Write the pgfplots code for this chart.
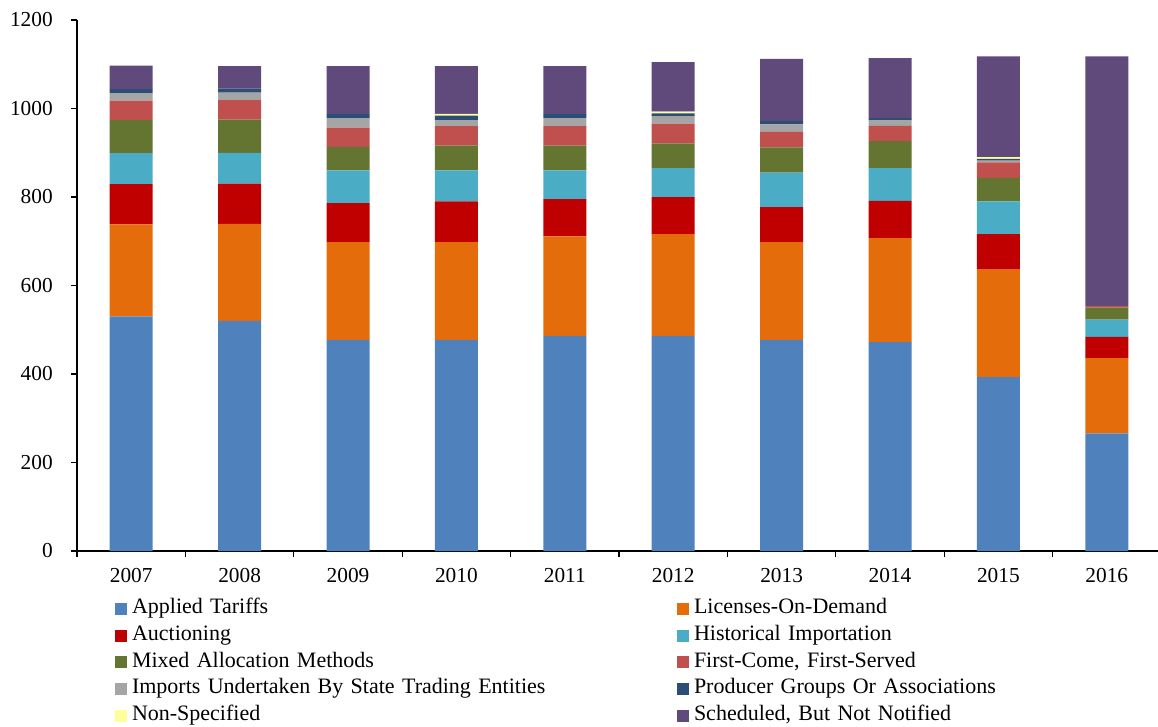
\documentclass[border=0pt]{standalone}
\usepackage{fontspec}
\setmainfont{Liberation Serif}
\usepackage{pgfplots}
\pgfplotsset{compat=1.18}
\definecolor{c1}{HTML}{4F81BD}
\definecolor{c2}{HTML}{E46C0A}
\definecolor{c3}{HTML}{C00000}
\definecolor{c4}{HTML}{4BACC6}
\definecolor{c5}{RGB}{99,117,49}
\definecolor{c6}{HTML}{C0504D}
\definecolor{c7}{HTML}{A5A5A5}
\definecolor{c8}{RGB}{44,77,117}
\definecolor{c9}{HTML}{FFFF99}
\definecolor{c10}{HTML}{604A7B}
\pgfplotsset{mybar/.style={fill=#1, draw=none,
  legend image code/.code={\fill[#1] (0pt,-4.5pt) rectangle (9pt,4.5pt);}}}
\begin{document}
\begin{tikzpicture}
\begin{axis}[
  scale only axis, width=813pt, height=398.25pt,
  ybar stacked, bar width=32.25pt,
  xmin=-0.5, xmax=9.5, ymin=0, ymax=1200,
  ytick={0,200,...,1200},
  axis x line*=bottom, axis y line*=left,
  axis line style={black, line width=0.9pt},
  tick style={black, line width=0.9pt},
  tick align=outside, major tick length=4.5pt,
  xtick={-0.5,0.5,...,9.5}, xticklabels={},
  extra x ticks={0,1,2,3,4,5,6,7,8,9},
  extra x tick labels={2007,2008,2009,2010,2011,2012,2013,2014,2015,2016},
  extra x tick style={major tick length=0pt},
  /pgf/number format/assume math mode=true,
  /pgf/number format/1000 sep={},
  tick label style={font=\fontsize{16}{18}\selectfont, inner sep=0pt},
  yticklabel style={anchor=east, xshift=-13.5pt},
  xticklabel style={anchor=north, yshift=-12.75pt},
  legend columns=2,
  legend style={draw=none, fill=none, inner sep=0pt, outer sep=0pt,
    at={(0.03506,-0.09165)}, anchor=north west, row sep=6pt, column sep=3.75pt,
    font=\fontsize{16.5}{18}\selectfont,
    nodes={inner sep=0pt, text height=10.5pt, text depth=3.5pt, text width=390pt, align=left},
    /tikz/every even column/.append style={column sep=18.75pt}},
]
\addplot[mybar=c1] coordinates {(0,530) (1,520) (2,477) (3,477) (4,486) (5,486) (6,477) (7,472) (8,393) (9,266)};
\addplot[mybar=c2] coordinates {(0,208) (1,219) (2,221) (3,221) (4,225) (5,230) (6,221) (7,235) (8,244) (9,170)};
\addplot[mybar=c3] coordinates {(0,91) (1,91) (2,88) (3,92) (4,84) (5,84) (6,79) (7,84) (8,79) (9,48)};
\addplot[mybar=c4] coordinates {(0,70) (1,70) (2,74) (3,70) (4,65) (5,65) (6,78) (7,74) (8,74) (9,39)};
\addplot[mybar=c5] coordinates {(0,75) (1,75) (2,53) (3,56) (4,56) (5,56) (6,57) (7,61) (8,53) (9,27)};
\addplot[mybar=c6] coordinates {(0,44) (1,44) (2,44) (3,44) (4,44) (5,45) (6,35) (7,35) (8,35) (9,4)};
\addplot[mybar=c7] coordinates {(0,17) (1,17) (2,21) (3,14) (4,18) (5,17) (6,17) (7,13) (8,4) (9,0)};
\addplot[mybar=c8] coordinates {(0,9) (1,9) (2,10) (3,10) (4,10) (5,6) (6,8) (7,4) (8,4) (9,0)};
\addplot[mybar=c9] coordinates {(0,0) (1,0) (2,0) (3,4) (4,0) (5,4) (6,0) (7,0) (8,4) (9,0)};
\addplot[mybar=c10] coordinates {(0,53) (1,51) (2,108) (3,108) (4,108) (5,112) (6,140) (7,136) (8,228) (9,564)};
\legend{Applied Tariffs, Licenses-On-Demand, Auctioning, Historical Importation, Mixed Allocation Methods, {First-Come, First-Served}, Imports Undertaken By State Trading Entities, Producer Groups Or Associations, Non-Specified, {Scheduled, But Not Notified}}
\end{axis}
\pgfresetboundingbox
\path[use as bounding box] (-57.75pt,-131.25pt) rectangle (810.75pt,413.25pt);
\end{tikzpicture}
\end{document}
